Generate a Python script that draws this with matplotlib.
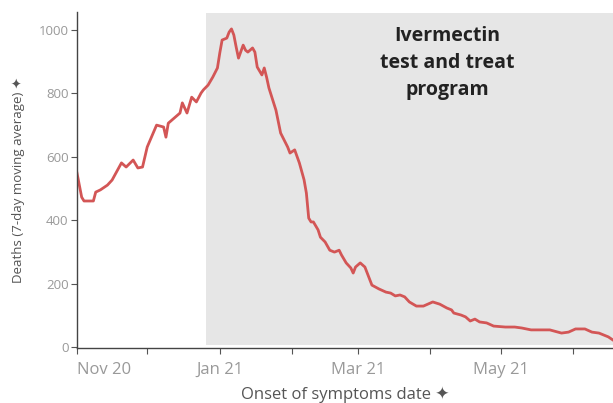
import matplotlib
matplotlib.use("Agg")
import matplotlib.pyplot as plt
import pandas as pd

# 7-day moving average of deaths
dates = [
    "2020-11-01", "2020-11-03", "2020-11-04", "2020-11-08", "2020-11-09", "2020-11-11",
    "2020-11-14", "2020-11-16", "2020-11-20", "2020-11-22", "2020-11-25", "2020-11-27",
    "2020-11-29", "2020-12-01", "2020-12-05", "2020-12-08", "2020-12-09", "2020-12-10",
    "2020-12-15", "2020-12-16", "2020-12-18", "2020-12-20", "2020-12-22", "2020-12-24",
    "2020-12-25", "2020-12-27", "2020-12-29", "2020-12-31", "2021-01-01", "2021-01-02",
    "2021-01-04", "2021-01-05", "2021-01-06", "2021-01-07", "2021-01-08", "2021-01-09",
    "2021-01-11", "2021-01-12", "2021-01-13", "2021-01-15", "2021-01-16", "2021-01-17",
    "2021-01-19", "2021-01-20", "2021-01-21", "2021-01-22", "2021-01-25", "2021-01-27",
    "2021-01-30", "2021-01-31", "2021-02-02", "2021-02-04", "2021-02-06", "2021-02-07",
    "2021-02-08", "2021-02-09", "2021-02-10", "2021-02-12", "2021-02-13", "2021-02-15",
    "2021-02-17", "2021-02-19", "2021-02-21", "2021-02-22", "2021-02-24", "2021-02-26",
    "2021-02-27", "2021-02-28", "2021-03-02", "2021-03-04", "2021-03-05", "2021-03-07",
    "2021-03-10", "2021-03-13", "2021-03-15", "2021-03-17", "2021-03-19", "2021-03-21",
    "2021-03-23", "2021-03-26", "2021-03-29", "2021-04-02", "2021-04-05", "2021-04-08",
    "2021-04-10", "2021-04-11", "2021-04-14", "2021-04-16", "2021-04-18", "2021-04-20",
    "2021-04-22", "2021-04-25", "2021-04-28", "2021-05-03", "2021-05-07", "2021-05-10",
    "2021-05-14", "2021-05-19", "2021-05-22", "2021-05-24", "2021-05-27", "2021-05-30",
    "2021-06-02", "2021-06-06", "2021-06-09", "2021-06-12", "2021-06-14", "2021-06-16",
    "2021-06-18",
]
deaths = [
    548, 472, 460, 460, 488, 495,
    510, 526, 580, 567, 589, 564,
    567, 630, 699, 693, 661, 705,
    737, 769, 737, 787, 772, 800,
    810, 825, 850, 879, 926, 967,
    973, 992, 1002, 983, 945, 910,
    951, 935, 929, 942, 929, 882,
    857, 879, 850, 816, 746, 674,
    630, 611, 621, 580, 527, 485,
    406, 394, 394, 369, 346, 331,
    305, 299, 305, 290, 265, 249,
    233, 252, 265, 252, 233, 195,
    183, 173, 170, 161, 164, 158,
    142, 129, 129, 142, 135, 123,
    117, 107, 101, 95, 82, 88,
    79, 76, 66, 63, 63, 60,
    54, 54, 54, 50, 44, 47,
    57, 57, 47, 44, 38, 32,
    22,
]

program_start = "2020-12-26"
x_start, x_end = "2020-11-01", "2021-06-18"
tick_months = ["2020-11-01", "2020-12-01", "2021-01-01", "2021-02-01",
               "2021-03-01", "2021-04-01", "2021-05-01", "2021-06-01"]
tick_labels = ["Nov 20", "", "Jan 21", "", "Mar 21", "", "May 21", ""]
y_ticks = [0, 200, 400, 600, 800, 1000]

plt.rcParams['font.family'] = ['Open Sans', 'DejaVu Sans']

fig = plt.figure(figsize=(6.13, 4.03), dpi=100)
ax = fig.add_axes([0.1256, 0.1365, 0.8744, 0.8335])

d = pd.to_datetime(dates)
ax.axvspan(pd.Timestamp(program_start), pd.Timestamp(x_end), ymin=0.01, ymax=0.997,
           color='#e6e6e6', lw=0, zorder=0)
ax.plot(d, deaths, color='#d35656', lw=2, solid_joinstyle='round', zorder=2)

ax.set_xlim(pd.Timestamp(x_start), pd.Timestamp(x_end))
ax.set_ylim(-3, 1055)

ax.set_xticks(pd.to_datetime(tick_months))
ax.set_xticklabels(tick_labels)
ax.get_xticklabels()[0].set_horizontalalignment('left')
ax.set_yticks(y_ticks)

ax.tick_params(axis='x', length=4, width=0.8, color='#555555', labelcolor='#999999',
               labelsize=12, pad=6)
ax.tick_params(axis='y', length=4, width=0.8, color='#555555', labelcolor='#999999',
               labelsize=9.5, pad=2)

for s in ['top', 'right']:
    ax.spines[s].set_visible(False)
for s in ['left', 'bottom']:
    ax.spines[s].set_color('#444444')
    ax.spines[s].set_linewidth(1)

ax.set_ylabel('Deaths (7-day moving average) \u2726', fontsize=9.5, color='#555555',
              labelpad=10)
ax.set_xlabel('Onset of symptoms date \u2726', fontsize=12, color='#555555', labelpad=6)

ax.text(pd.Timestamp("2021-04-08"), 895, 'Ivermectin\ntest and treat\nprogram',
        ha='center', va='center', fontsize=14, fontweight='bold', color='#222222',
        linespacing=1.45)

fig.savefig('out.png', dpi=100)
